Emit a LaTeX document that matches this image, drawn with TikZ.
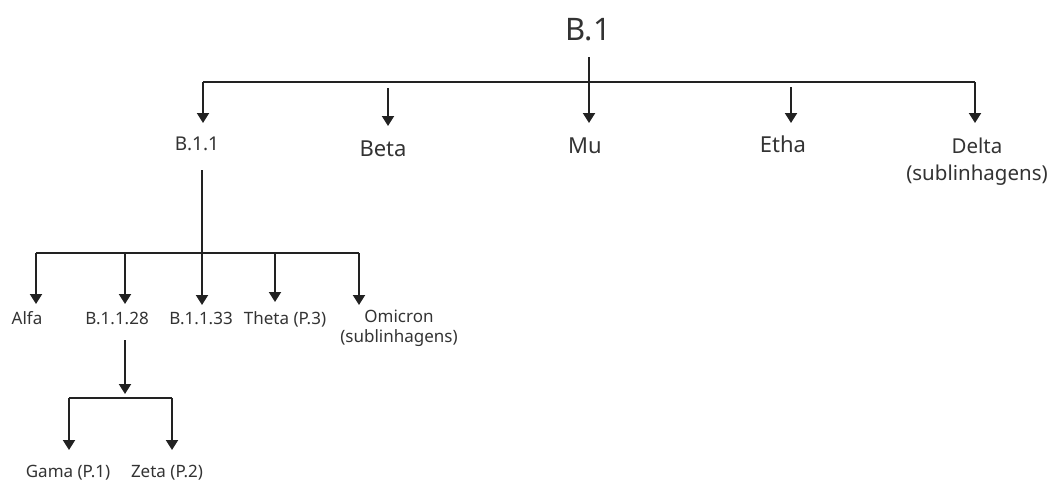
\documentclass[tikz,border=0pt]{standalone}
\usepackage{fontspec}
\setmainfont{Noto Sans}
\usetikzlibrary{arrows.meta}
\definecolor{ln}{HTML}{222222}
\definecolor{tx}{HTML}{333333}
\tikzset{
  arr/.style={draw=ln, line width=2pt, -{Triangle[width=12pt,length=10pt]}},
  bar/.style={draw=ln, line width=2pt},
  lbl/.style={text=tx, inner sep=0pt, anchor=base, align=center},
}
\begin{document}
\begin{tikzpicture}[x=1pt,y=-1pt]
\useasboundingbox (0,0) rectangle (1051,480);
% labels
\node[lbl, font=\fontsize{31}{31}\selectfont] (b1) at (588,40) {B.1};
\node[lbl, font=\fontsize{19}{19}\selectfont] (b11) at (197,150) {B.1.1};
\node[lbl, font=\fontsize{22}{22}\selectfont] (beta) at (383,156) {Beta};
\node[lbl, font=\fontsize{22}{22}\selectfont] (mu) at (585,153) {Mu};
\node[lbl, font=\fontsize{22}{22}\selectfont] (etha) at (783,152) {Etha};
\node[lbl, font=\fontsize{20.5}{27}\selectfont, anchor=north] (delta) at (977,138) {Delta\\(sublinhagens)};
\node[lbl, font=\fontsize{17}{17}\selectfont] (alfa) at (27,324) {Alfa};
\node[lbl, font=\fontsize{17}{17}\selectfont] (b1128) at (117,324) {B.1.1.28};
\node[lbl, font=\fontsize{17}{17}\selectfont] (b1133) at (201,324) {B.1.1.33};
\node[lbl, font=\fontsize{17}{17}\selectfont] (theta) at (285,324) {Theta (P.3)};
\node[lbl, font=\fontsize{17}{20}\selectfont, anchor=north] (omicron) at (399,310) {Omicron\\(sublinhagens)};
\node[lbl, font=\fontsize{17}{17}\selectfont] (gama) at (68,477) {Gama (P.1)};
\node[lbl, font=\fontsize{17}{17}\selectfont] (zeta) at (167,477) {Zeta (P.2)};
% junction coordinates
\coordinate (s1) at (589,57);
\coordinate (hL) at (203,82);
\coordinate (hR) at (975,82);
\coordinate (tB11) at (203,123);
\coordinate (tBeta) at (388,126);
\coordinate (tMu) at (589,123);
\coordinate (tEtha) at (791,123);
\coordinate (tDelta) at (975,123);
\coordinate (sBeta) at (388,88);
\coordinate (sEtha) at (791,87);
% level 1
\draw[bar] (hL) -- (hR);
\draw[arr] (hL) -- (tB11);
\draw[arr] (hR) -- (tDelta);
\draw[arr] (s1) -- (tMu);
\draw[arr] (sBeta) -- (tBeta);
\draw[arr] (sEtha) -- (tEtha);
% level 2
\coordinate (s2) at (202,170);
\coordinate (h2L) at (36,253);
\coordinate (h2R) at (359,253);
\coordinate (tAlfa) at (36,304);
\coordinate (j28) at (125,253);
\coordinate (t28) at (125,304);
\coordinate (t33) at (202,305);
\coordinate (jTh) at (275,253);
\coordinate (tTh) at (275,302);
\coordinate (tOm) at (359,305);
\draw[bar] (h2L) -- (h2R);
\draw[arr] (h2L) -- (tAlfa);
\draw[arr] (h2R) -- (tOm);
\draw[arr] (j28) -- (t28);
\draw[arr] (s2) -- (t33);
\draw[arr] (jTh) -- (tTh);
% level 3
\coordinate (s3) at (125,340);
\coordinate (t3) at (125,394);
\coordinate (h3L) at (69,398);
\coordinate (h3R) at (172,398);
\coordinate (tGama) at (69,450);
\coordinate (tZeta) at (172,450);
\draw[arr] (s3) -- (t3);
\draw[bar] (h3L) -- (h3R);
\draw[arr] (h3L) -- (tGama);
\draw[arr] (h3R) -- (tZeta);
\end{tikzpicture}
\end{document}
